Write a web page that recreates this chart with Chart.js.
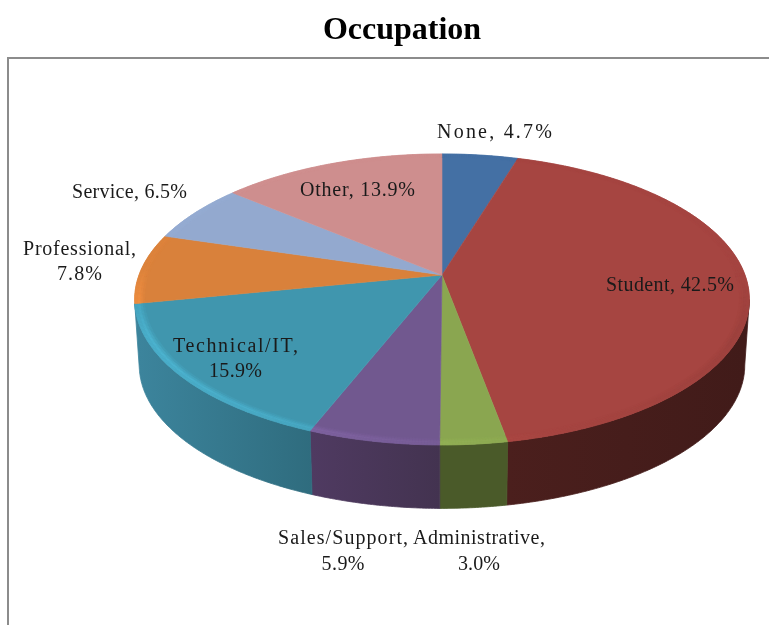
<!DOCTYPE html>
<html>
<head>
<meta charset="utf-8">
<style>html,body{margin:0;padding:0;background:#fff}canvas{display:block;filter:blur(0.45px)}</style>
<script src="https://cdn.jsdelivr.net/npm/chart.js@4/dist/chart.umd.min.js"></script>
</head>
<body>
<canvas id="c" width="769" height="627"></canvas>
<script>
const categories = ["None","Student","Administrative","Sales/Support","Technical/IT","Professional","Service","Other"];
const shares = [4.7,42.5,3.0,5.9,15.9,7.8,6.5,13.9];
const topColors = ["#4470a4","#a64541","#8aa650","#71588f","#4096ae","#d9813b","#93a9cf","#ce8e8e"];
const sideStart = ["#2c4868","#411b19","#4a5a29","#433350","#2f6c7e","#8a5226","#5e6c84","#835a5a"];
const sideEnd   = ["#2c4868","#4b1f1d","#4a5a29","#4f3a61","#3c849c","#8a5226","#5e6c84","#835a5a"];
const labelLines = [["None, 4.7%"],["Student, 42.5%"],["Administrative,","3.0%"],["Sales/Support,","5.9%"],["Technical/IT,","15.9%"],["Professional,","7.8%"],["Service, 6.5%"],["Other, 13.9%"]];
const labelWidths = [[115],[128],[132,42],[130,43],[125,53],[113,45],[115],[115]];
const labelAnchors = [[494.5,132.5],[670,285.5],[479,539],[343,539],[235.5,346.5],[79.5,249.5],[129.5,192.5],[357.5,190.5]];
const titleText = "Occupation";

const view = {cx:442, cy:275, A:303, B:141.4, q:0.168, s:0.985, dy:66};
function project(a,r,lower){
  const u=r*Math.cos(a), v=r*Math.sin(a), d=1-view.q*v;
  let X=view.A*u/d, Y=view.B*v/d;
  if(lower){X*=view.s;Y=Y*view.s+view.dy;}
  return [view.cx+X, view.cy+Y];
}
function rgb(h){return [1,3,5].map(i=>parseInt(h.substr(i,2),16));}
function css(c){return `rgb(${c.map(x=>Math.max(0,Math.min(255,Math.round(x)))).join(',')})`;}
const STEP=Math.PI/360;
const pie3d={
  id:'pie3d',
  beforeDraw(chart){
    const g=chart.ctx;
    g.save();
    g.strokeStyle='#8c8c8c';g.lineWidth=2;
    g.beginPath();g.moveTo(8,625);g.lineTo(8,58);g.lineTo(769,58);g.stroke();
    g.restore();
  },
  beforeDatasetsDraw(chart){
    const g=chart.ctx, arcs=chart.getDatasetMeta(0).data;
    g.save();
    // side wall: only the visible run of slices that face the viewer
    const edge=Math.asin(view.q);
    arcs.forEach((arc,i)=>{
      const raw0=arc.startAngle,raw1=arc.endAngle;
      if(Math.sin((raw0+raw1)/2)<=0)return;
      const a0=Math.max(raw0,edge), a1=Math.min(raw1,Math.PI-edge);
      const n=Math.max(2,Math.ceil((a1-a0)/STEP));
      const grad=g.createLinearGradient(project(a0,1,true)[0],0,project(a1,1,true)[0],0);
      grad.addColorStop(0,sideStart[i]);grad.addColorStop(1,sideEnd[i]);
      g.fillStyle=grad;g.strokeStyle=grad;g.lineWidth=0.8;
      g.beginPath();
      for(let k=0;k<=n;k++){const P=project(a0+(a1-a0)*k/n,1,false);k?g.lineTo(...P):g.moveTo(...P);}
      for(let k=n;k>=0;k--)g.lineTo(...project(a0+(a1-a0)*k/n,1,true));
      g.closePath();g.fill();g.stroke();
    });
    // top face
    arcs.forEach((arc,i)=>{
      const a0=arc.startAngle,a1=arc.endAngle,n=Math.max(2,Math.ceil((a1-a0)/STEP));
      g.fillStyle=g.strokeStyle=topColors[i];g.lineWidth=0.6;
      g.beginPath();g.moveTo(view.cx,view.cy);
      for(let k=0;k<=n;k++)g.lineTo(...project(a0+(a1-a0)*k/n,1,false));
      g.closePath();g.fill();g.stroke();
    });
    // bevel band along the rim
    const rings=[[.968,.975,.25],[.975,.982,.6],[.982,.99,.95],[.99,1,.8]];
    arcs.forEach((arc,i)=>{
      const base=rgb(topColors[i]);
      const a0=arc.startAngle,a1=arc.endAngle,n=Math.max(2,Math.ceil((a1-a0)/STEP));
      for(let k=0;k<n;k++){
        const p=a0+(a1-a0)*k/n,q=a0+(a1-a0)*(k+1)/n,m=(p+q)/2;
        let h=-Math.cos(m+Math.PI/12)+0.05;
        h=Math.max(-1,Math.min(1,h));
        if(h<0)h*=0.4;
        const fade=Math.max(0.1,Math.min(1,(Math.sin(m)+0.1)/0.5));
        h*=fade;
        rings.forEach(([r0,r1,f])=>{
          const col=css(base.map(x=>x*(1+0.2*h*f)));
          const A=project(p,r0),B=project(q,r0),C=project(q,r1),D=project(p,r1);
          g.fillStyle=g.strokeStyle=col;g.lineWidth=0.4;
          g.beginPath();g.moveTo(...A);g.lineTo(...B);g.lineTo(...C);g.lineTo(...D);g.closePath();g.fill();g.stroke();
        });
      }
    });
    g.restore();
    return false;
  },
  afterDraw(chart){
    const g=chart.ctx;
    g.save();
    g.font='20px "Liberation Serif"';g.fillStyle='#1a1a1a';g.textAlign='left';g.textBaseline='middle';
    labelLines.forEach((lines,i)=>lines.forEach((t,j)=>{
      g.letterSpacing='0px';
      const extra=(labelWidths[i][j]-g.measureText(t).width)/Math.max(1,t.length-1);
      g.letterSpacing=extra.toFixed(2)+'px';
      g.fillText(t,labelAnchors[i][0]-labelWidths[i][j]/2,labelAnchors[i][1]+j*25.5);
    }));
    g.restore();
  }
};
new Chart(document.getElementById('c'),{
  type:'pie',
  data:{labels:categories,datasets:[{data:shares,backgroundColor:topColors,borderWidth:0}]},
  options:{
    responsive:false,animation:false,
    layout:{padding:{left:35,top:12}},
    plugins:{
      legend:{display:false},tooltip:{enabled:false},
      title:{display:true,text:titleText,fullSize:false,color:'#000',font:{family:'"Liberation Serif"',size:32,weight:'bold'},padding:{top:0,bottom:10}}
    }
  },
  plugins:[pie3d]
});
</script>
</body>
</html>
